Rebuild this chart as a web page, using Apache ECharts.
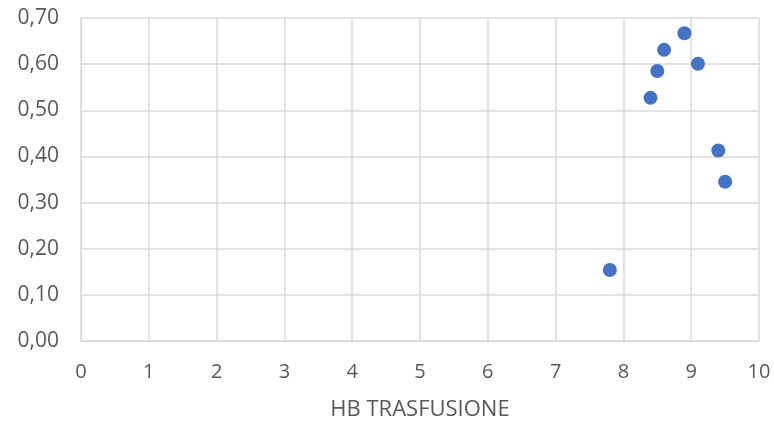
<!DOCTYPE html>
<html><head><meta charset="utf-8">
<script src="https://cdn.jsdelivr.net/npm/echarts@6/dist/echarts.min.js"></script>
<style>html,body{margin:0;padding:0;background:#fff}#c{width:774px;height:426px}</style>
</head><body><div id="c"></div>
<script>
const xValues = [7.8, 8.4, 8.5, 8.6, 8.9, 9.1, 9.4, 9.5];
const yValues = [0.154, 0.527, 0.585, 0.631, 0.667, 0.601, 0.413, 0.345];
const xAxisName = 'HB TRASFUSIONE';
const data = xValues.map((x, i) => [x, yValues[i]]);
const font = 'Open Sans';
const chart = echarts.init(document.getElementById('c'));
chart.setOption({
  animation: false,
  grid: {left: 81, right: 15, top: 18, bottom: 84, containLabel: false},
  xAxis: {
    type: 'value', min: 0, max: 10, interval: 1,
    name: xAxisName, nameLocation: 'middle', nameGap: 58,
    nameTextStyle: {color: '#595959', fontSize: 22, fontFamily: font},
    axisLine: {show: true, lineStyle: {color: '#d9d9d9', width: 1}},
    axisTick: {show: false},
    axisLabel: {color: '#595959', fontSize: 20, fontFamily: font, margin: 21},
    splitLine: {show: true, lineStyle: {color: '#d9d9d9', width: 1.5}}
  },
  yAxis: {
    type: 'value', min: 0, max: 0.7, interval: 0.1,
    axisLine: {show: true, lineStyle: {color: '#d9d9d9', width: 1}},
    axisTick: {show: false},
    axisLabel: {color: '#595959', fontSize: 21, fontFamily: font, margin: 22,
      formatter: v => v.toFixed(2).replace('.', ',')},
    splitLine: {show: true, lineStyle: {color: '#d9d9d9', width: 1.5}}
  },
  series: [{
    type: 'scatter', data: data, symbolSize: 14,
    itemStyle: {color: '#4472C4', opacity: 1}
  }]
});
</script></body></html>
